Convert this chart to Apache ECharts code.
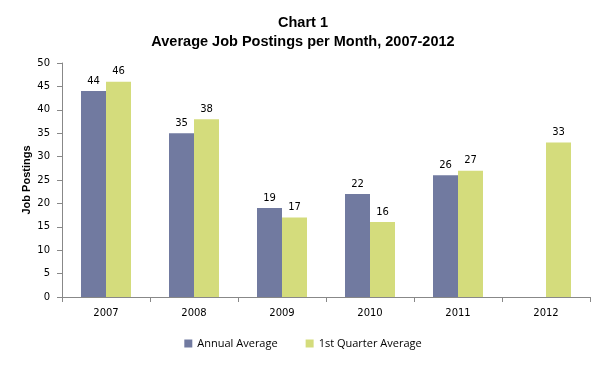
<!DOCTYPE html>
<html><head><meta charset="utf-8">
<script src="https://cdn.jsdelivr.net/npm/echarts@6/dist/echarts.min.js"></script>
<style>html,body{margin:0;padding:0;background:#fff}#c{width:606px;height:365px}</style>
</head><body><div id="c"></div>
<script>
const categories = ['2007','2008','2009','2010','2011','2012'];
const annualAverage = [44, 35, 19, 22, 26, null];
const firstQuarterAverage = [46, 38, 17, 16, 27, 33];
const yTicks = {min: 0, max: 50, interval: 5};

const chart = echarts.init(document.getElementById('c'), null, {renderer: 'canvas'});
const labelStyle = {show: true, position: 'top', distance: 5, color: '#000', fontFamily: 'DejaVu Sans', fontSize: 10};
chart.setOption({
  animation: false,
  backgroundColor: '#fff',
  title: {
    text: 'Chart 1\nAverage Job Postings per Month, 2007-2012',
    left: 'center', top: 8,
    textStyle: {fontFamily: 'Liberation Sans', fontWeight: 'bold', fontSize: 14.5, lineHeight: 19, color: '#000'}
  },
  legend: {
    bottom: 11, left: 'center', itemWidth: 8, itemHeight: 8, itemGap: 28,
    icon: 'rect',
    textStyle: {fontFamily: 'Open Sans', fontSize: 11, color: '#000'}
  },
  grid: {left: 62, right: 16, top: 63, bottom: 68},
  xAxis: {
    type: 'category', data: categories,
    axisLine: {lineStyle: {color: '#888'}},
    axisTick: {show: true, length: 5, lineStyle: {color: '#888'}},
    axisLabel: {color: '#000', fontFamily: 'DejaVu Sans', fontSize: 10, margin: 11}
  },
  yAxis: {
    type: 'value', min: yTicks.min, max: yTicks.max, interval: yTicks.interval,
    name: 'Job Postings', nameLocation: 'middle', nameGap: 30, nameRotate: 90,
    nameMoveOverlap: false,
    nameTextStyle: {fontFamily: 'Liberation Sans', fontWeight: 'bold', fontSize: 11, color: '#000'},
    axisLine: {show: true, lineStyle: {color: '#888'}},
    axisTick: {show: true, length: 5, lineStyle: {color: '#888'}},
    splitLine: {show: false},
    axisLabel: {color: '#000', fontFamily: 'DejaVu Sans', fontSize: 10, margin: 12}
  },
  series: [
    {name: 'Annual Average', type: 'bar', data: annualAverage, barWidth: 25, barGap: '0%',
     itemStyle: {color: '#717AA0'}, label: labelStyle},
    {name: '1st Quarter Average', type: 'bar', data: firstQuarterAverage, barWidth: 25, barGap: '0%',
     itemStyle: {color: '#D4DC7C'}, label: labelStyle}
  ]
});
</script></body></html>
